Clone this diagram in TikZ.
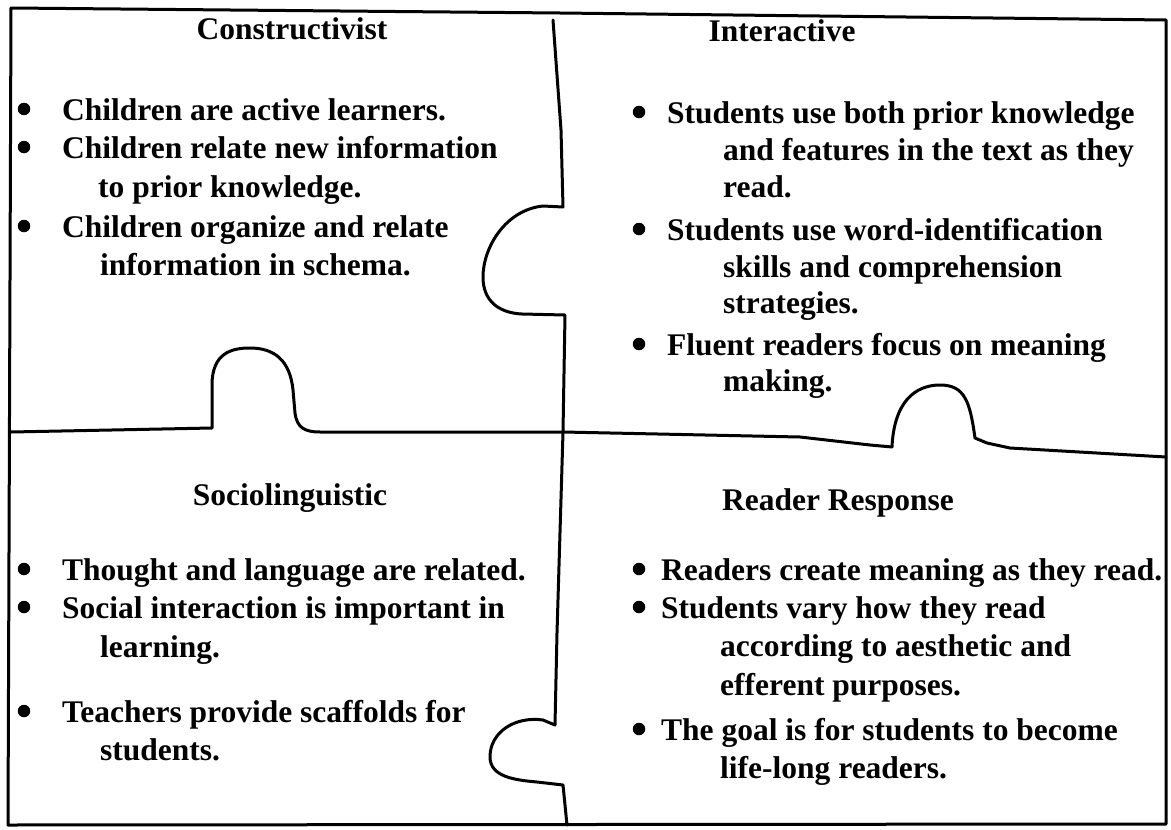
\documentclass[tikz,border=0pt]{standalone}
\usepackage{fontspec}
\setmainfont{Liberation Serif}
\tikzset{
  edge/.style={line width=3pt, line join=round, line cap=round},
  txt/.style={anchor=base west, inner sep=0pt, font=\fontsize{31.5}{36}\selectfont\bfseries},
  hd/.style={anchor=base, inner sep=0pt, font=\fontsize{31.5}{36}\selectfont\bfseries},
  dot/.style={circle, fill=black, inner sep=0pt, minimum size=12.5pt},
}
\begin{document}
\begin{tikzpicture}[x=1pt,y=-1pt]
\useasboundingbox (0,0) rectangle (1171,830);
% outer frame
\draw[edge] (11,8) -- (560,13) -- (1166,20) -- (1166,824) -- (8,825) -- cycle;
% upper vertical divider with tab
\draw[edge] (553,20) -- (561,130) -- (563,207) -- (543,206)
  .. controls (505,210) and (483,248) .. (483,277)
  .. controls (483,302) and (500,313) .. (522,314) -- (565,315)
  -- (563,432);
% lower vertical divider with tab
\draw[edge] (563,432) -- (557,633) -- (555,725) -- (543,720)
  .. controls (515,716) and (490,732) .. (490,757)
  .. controls (490,777) and (515,780) .. (537,782) -- (563,785) -- (567,825);
% left horizontal divider with tab
\draw[edge] (11,432) -- (212,428) -- (212,385)
  .. controls (212,352) and (233,348) .. (250,348)
  .. controls (274,348) and (290,360) .. (293,390) -- (295,413)
  .. controls (297,428) and (305,432) .. (320,432) -- (563,432);
% right horizontal divider with tab
\draw[edge] (563,432) -- (800,437) -- (870,445) -- (892,447)
  .. controls (894,402) and (915,385) .. (940,385)
  .. controls (965,385) and (970,402) .. (975,438)
  -- (987,443) -- (1010,448) -- (1166,457);

% Constructivist
\node[hd] (h1) at (292,39) {Constructivist};
\node[dot] (b11) at (24,109) {};
\node[txt] (t11) at (62,120) {Children are active learners.};
\node[dot] (b12) at (24,147) {};
\node[txt] (t12) at (62,158) {Children relate new information};
\node[txt] (t12b) at (98,197) {to prior knowledge.};
\node[dot] (b13) at (24,226) {};
\node[txt] (t13) at (62,237) {Children organize and relate};
\node[txt] (t13b) at (100,275) {information in schema.};

% Interactive
\node[hd] (h2) at (782,41) {Interactive};
\node[dot] (b21) at (639,112) {};
\node[txt] (t21) at (667,123) {Students use both prior knowledge};
\node[txt] (t21b) at (723,160) {and features in the text as they};
\node[txt] (t21c) at (723,197) {read.};
\node[dot] (b22) at (639,229) {};
\node[txt] (t22) at (667,240) {Students use word-identification};
\node[txt] (t22b) at (723,277) {skills and comprehension};
\node[txt] (t22c) at (723,313) {strategies.};
\node[dot] (b23) at (639,344) {};
\node[txt] (t23) at (667,355) {Fluent readers focus on meaning};
\node[txt] (t23b) at (723,391) {making.};

% Sociolinguistic
\node[hd] (h3) at (290,505) {Sociolinguistic};
\node[dot] (b31) at (24,569) {};
\node[txt] (t31) at (62,580) {Thought and language are related.};
\node[dot] (b32) at (24,607) {};
\node[txt] (t32) at (62,618) {Social interaction is important in};
\node[txt] (t32b) at (100,657) {learning.};
\node[dot] (b33) at (24,711) {};
\node[txt] (t33) at (62,722) {Teachers provide scaffolds for};
\node[txt] (t33b) at (100,760) {students.};

% Reader Response
\node[hd] (h4) at (838,510) {Reader Response};
\node[dot] (b41) at (639,569) {};
\node[txt] (t41) at (661,580) {Readers create meaning as they read.};
\node[dot] (b42) at (639,607) {};
\node[txt] (t42) at (661,618) {Students vary how they read};
\node[txt] (t42b) at (720,656) {according to aesthetic and};
\node[txt] (t42c) at (720,695) {efferent purposes.};
\node[dot] (b43) at (639,729) {};
\node[txt] (t43) at (661,740) {The goal is for students to become};
\node[txt] (t43b) at (720,778) {life-long readers.};
\end{tikzpicture}
\end{document}
